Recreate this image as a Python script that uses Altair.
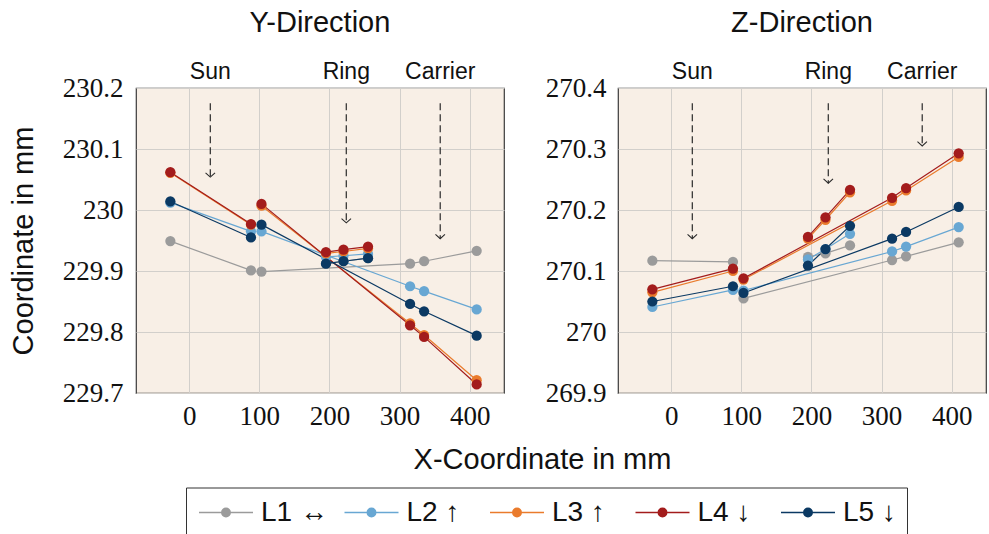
import altair as alt
import pandas as pd

# ---------------- data ----------------
X_POS = [-27, 88, 103, 195, 220, 255, 315, 335, 410]
SEGMENT = ["sun", "sun", "main", "ring", "ring", "ring", "main", "main", "main"]
SERIES = ["L1 ↔", "L2 ↑", "L3 ↑", "L4 ↓", "L5 ↓"]
COLORS = ["#9b9b9b", "#68a7d3", "#ea7b2c", "#a31c1c", "#0b3963"]

Y_L1 = [229.949, 229.901, 229.899, 229.912, 229.916, 229.921, 229.912, 229.916, 229.933]
Y_L2 = [230.012, 229.965, 229.965, 229.923, 229.925, 229.928, 229.875, 229.867, 229.837]
Y_L3 = [230.061, 229.976, 230.007, 229.929, 229.932, 229.937, 229.814, 229.795, 229.721]
Y_L4 = [230.062, 229.977, 230.010, 229.931, 229.935, 229.940, 229.811, 229.792, 229.714]
Y_L5 = [230.014, 229.955, 229.976, 229.912, 229.916, 229.921, 229.846, 229.834, 229.794]

Z_L1 = [270.117, 270.115, 270.055, 270.123, 270.129, 270.142, 270.118, 270.124, 270.147]
Z_L2 = [270.041, 270.069, 270.068, 270.119, 270.136, 270.161, 270.132, 270.140, 270.172]
Z_L3 = [270.065, 270.100, 270.086, 270.153, 270.184, 270.229, 270.215, 270.232, 270.287]
Z_L4 = [270.070, 270.104, 270.088, 270.156, 270.188, 270.233, 270.220, 270.236, 270.293]
Z_L5 = [270.050, 270.075, 270.064, 270.109, 270.136, 270.174, 270.153, 270.164, 270.205]

X_TICKS = [0, 100, 200, 300, 400]
X_DOMAIN = [-76, 449]
Y_TICKS = [229.7, 229.8, 229.9, 230.0, 230.1, 230.2]
Z_TICKS = [269.9, 270.0, 270.1, 270.2, 270.3, 270.4]

MARKER_X = [30, 224, 358]
MARKER_LABELS = ["Sun", "Ring", "Carrier"]
Y_MARKER_TOP = [230.175, 230.175, 230.175]
Y_MARKER_TIP = [230.054, 229.979, 229.953]
Z_MARKER_TOP = [270.375, 270.375, 270.375]
Z_MARKER_TIP = [270.153, 270.244, 270.305]

SANS = "Liberation Sans"
SERIF = "Liberation Serif"


def _circle(cx, r):
    return (f"M{cx - r},0A{r},{r},0,1,1,{cx + r},0"
            f"A{r},{r},0,1,1,{cx - r},0")


# legend glyph: line with a filled dot (unit = 12 px, centre 12 px from entry start)
LEGEND_PATH = "M-1,0L3.5,0" + "".join(_circle(1.25, r) for r in (0.36, 0.27, 0.18, 0.09, 0.03))
ARROW_HEAD = "M-1,-0.9L0,0L1,-0.9"


def series_frame(values_list):
    rows = []
    for s_idx, (name, vals) in enumerate(zip(SERIES, values_list)):
        for i, (x, seg, v) in enumerate(zip(X_POS, SEGMENT, vals)):
            rows.append({"x": x, "y": v, "series": name,
                         "seg": f"{name}-{seg}", "k": s_idx * 100 + i})
    return pd.DataFrame(rows)


def marker_frame(tops, tips):
    return pd.DataFrame({"x": MARKER_X, "label": MARKER_LABELS,
                         "top": tops, "tip": tips})


def panel(df, mk, ydomain, yticks, title, left):
    xs = alt.Scale(domain=X_DOMAIN, nice=False, zero=False)
    ys = alt.Scale(domain=ydomain, nice=False, zero=False)
    cs = alt.Scale(domain=SERIES, range=COLORS)
    if left:
        xaxis = alt.Axis(values=X_TICKS, title="X-Coordinate in mm", titleX=406,
                         titleY=75, titleBaseline="alphabetic", titleAlign="center",
                         labelPadding=10)
        yaxis = alt.Axis(values=yticks, format=".1~f", title="Coordinate in mm",
                         titleX=-104, titleBaseline="alphabetic", labelPadding=13)
        legend = alt.Legend(
            orient="none", legendX=50, legendY=399.5, direction="horizontal",
            columns=5, title=None, symbolType=LEGEND_PATH, symbolSize=576,
            symbolStrokeWidth=1.3, labelFont=SANS, labelFontSize=28,
            labelColor="#111", labelOffset=36, padding=11, strokeColor="#333",
            columnPadding=13.5, gridAlign="all", labelLimit=300,
        )
    else:
        xaxis = alt.Axis(values=X_TICKS, title=None, labelPadding=10)
        yaxis = alt.Axis(values=yticks, format=".1~f", title=None, labelPadding=12)
        legend = None

    X = alt.X("x:Q", scale=xs, axis=xaxis)
    Yv = alt.Y("y:Q", scale=ys, axis=yaxis)

    lines = alt.Chart(df).mark_line(strokeWidth=1.2).encode(
        x=X, y=Yv,
        color=alt.Color("series:N", scale=cs, legend=legend),
        detail="seg:N", order="x:Q")
    points = alt.Chart(df).mark_point(filled=True, size=105, opacity=1).encode(
        x=X, y=Yv,
        color=alt.Color("series:N", scale=cs, legend=None),
        order="k:Q")
    rules = alt.Chart(mk).mark_rule(strokeDash=[7, 4], color="#2a2a2a", strokeWidth=1.2).encode(
        x=X, y=alt.Y("top:Q", scale=ys, axis=yaxis), y2="tip:Q")
    heads = alt.Chart(mk).mark_point(shape=ARROW_HEAD, size=90, filled=False,
                                     color="#2a2a2a", strokeWidth=1.1, opacity=1).encode(
        x=X, y=alt.Y("tip:Q", scale=ys, axis=yaxis))
    labels = alt.Chart(mk).mark_text(font=SANS, fontSize=23, baseline="alphabetic",
                                     align="center", color="#111").encode(
        x=X, y=alt.value(-9), text="label:N")

    return alt.layer(rules, heads, lines, points, labels).properties(
        width=368, height=305,
        title=alt.TitleParams(title, font=SANS, fontSize=29, fontWeight="normal",
                              color="#111", frame="group", anchor="middle",
                              baseline="alphabetic", offset=0),
    )


left = panel(series_frame([Y_L1, Y_L2, Y_L3, Y_L4, Y_L5]),
             marker_frame(Y_MARKER_TOP, Y_MARKER_TIP),
             [229.7, 230.2], Y_TICKS, "Y-Direction", True)
right = panel(series_frame([Z_L1, Z_L2, Z_L3, Z_L4, Z_L5]),
              marker_frame(Z_MARKER_TOP, Z_MARKER_TIP),
              [269.9, 270.4], Z_TICKS, "Z-Direction", False)

chart = alt.hconcat(left, right, spacing=114, bounds="flush").resolve_scale(
    color="shared").resolve_legend(color="shared").properties(
    padding={"left": 8, "top": 8, "right": 0, "bottom": 0},
    background="white",
).configure_view(
    fill="#f8efe6", stroke="#3a3a3a", strokeWidth=1.2
).configure_axis(
    grid=True, gridColor="#d2cfcb", gridWidth=1, domain=False, ticks=False,
    labelFont=SERIF, labelFontSize=27, labelColor="#111",
    titleFont=SANS, titleFontSize=29, titleFontWeight="normal", titleColor="#111",
)

chart.save("out.html", embed_options={"renderer": "svg", "actions": False})
